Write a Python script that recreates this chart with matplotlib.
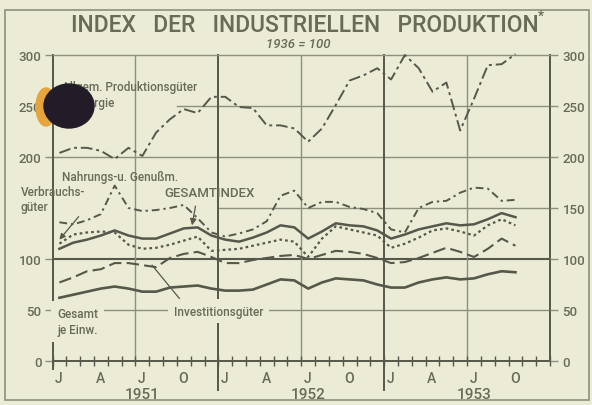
import numpy as np
import matplotlib.pyplot as plt
from matplotlib.patches import Ellipse, Rectangle

# ----------------------------
# Data (monthly, Jan 1951 - Oct 1953, 1936 = 100)
# ----------------------------
allgem = [204, 209, 209, 206, 198, 209, 201, 224, 237, 247, 243, 259,
          259, 249, 248, 231, 231, 228, 215, 228, 251, 275, 280, 287,
          276, 300, 287, 264, 273, 226, 257, 290, 291, 301]
nahrung = [136, 134, 138, 144, 172, 150, 147, 148, 150, 153, 140, 126,
           122, 125, 129, 137, 162, 167, 150, 156, 156, 151, 149, 145,
           129, 126, 150, 156, 157, 165, 170, 169, 157, 158]
gesamt = [110, 116, 119, 123, 128, 123, 120, 120, 125, 130, 131, 123,
          119, 117, 121, 126, 133, 131, 120, 127, 135, 133, 132, 128,
          120, 124, 129, 132, 135, 133, 134, 139, 145, 141]
verbrauch = [115, 124, 126, 127, 126, 114, 110, 111, 114, 118, 122, 108,
             109, 110, 113, 116, 119, 117, 102, 120, 132, 129, 126, 123,
             111, 115, 121, 128, 130, 127, 123, 133, 139, 133]
invest = [77, 82, 88, 90, 96, 96, 94, 92, 101, 105, 107, 102,
          96, 96, 99, 101, 103, 104, 100, 104, 108, 107, 105, 101,
          96, 97, 101, 106, 111, 107, 102, 110, 120, 113]
je_einw = [62, 65, 68, 71, 73, 71, 68, 68, 72, 73, 74, 71,
           69, 69, 70, 75, 80, 79, 71, 77, 81, 80, 79, 75,
           72, 72, 77, 80, 82, 80, 81, 85, 88, 87]

month_labels = ["J", "A", "J", "O"] * 3
years = ["1951", "1952", "1953"]
left_ticks = [0, 50, 100, 200, 250, 300]
right_ticks = [0, 50, 100, 150, 200, 250, 300]

x = np.arange(len(gesamt)) + 0.5

# ----------------------------
# Style
# ----------------------------
BG = "#ebebd6"
INK = "#55584a"
TXT = "#686b58"
GRID = "#8d907c"
plt.rcParams["font.family"] = ["Roboto", "DejaVu Sans"]
plt.rcParams["font.weight"] = "medium"

fig = plt.figure(figsize=(5.92, 4.06), dpi=100, facecolor=BG)
ax = fig.add_axes([52.5 / 592, 1 - 362 / 406, 497.5 / 592, 306 / 406])
ax.set_facecolor(BG)
ax.set_xlim(0, 36)
ax.set_ylim(0, 300)

# grid
for v in [50, 200]:
    ax.axhline(v, color=GRID, lw=1.0, zorder=1)
ax.axhline(100, color=INK, lw=1.5, zorder=1)
ax.axhline(250, xmin=9 / 36, color=GRID, lw=1.0, zorder=1)
ax.axhline(150, xmin=12 / 36, color=GRID, lw=1.0, zorder=1)
for m in [6, 18, 30]:
    ax.axvline(m, color=GRID, lw=1.0, zorder=1)
for m in [12, 24]:
    ax.plot([m, m], [-28, 300], color=INK, lw=1.4, clip_on=False, zorder=1)
ax.plot([0, 0], [-8, 0], color=INK, lw=1.4, clip_on=False)

for s in ["left", "right", "bottom"]:
    ax.spines[s].set_color(INK)
    ax.spines[s].set_linewidth(1.4)
ax.spines["top"].set_color(GRID)
ax.spines["top"].set_linewidth(1.0)

# ----------------------------
# Series
# ----------------------------
kw = dict(color=INK, clip_on=False, zorder=3)
ax.plot(x, allgem, lw=1.4, dashes=(6, 2, 1.5, 2), **kw)
ax.plot(x, nahrung, lw=1.4, dashes=(4, 2, 1.2, 2), **kw)
ax.plot(x, gesamt, lw=1.8, **kw)
ax.plot(x, verbrauch, lw=1.6, dashes=(1.2, 1.4), **kw)
ax.plot(x, invest, lw=1.5, dashes=(6, 2.5), **kw)
ax.plot(x, je_einw, lw=1.9, **kw)

# ----------------------------
# Axes ticks
# ----------------------------
ax.set_yticks(left_ticks)
ax.tick_params(axis="y", length=6, width=1, color=GRID, labelsize=9.5,
               labelcolor=TXT, pad=2)
ax2 = ax.twinx()
ax2.set_ylim(0, 300)
ax2.set_yticks(right_ticks)
ax2.tick_params(axis="y", length=6, width=1, color=GRID, labelsize=9.5,
                labelcolor=TXT, pad=3)
for s in ax2.spines.values():
    s.set_visible(False)

ax.set_xticks(np.arange(0, 36, 3) + 0.45)
ax.set_xticklabels(month_labels)
ax.set_xticks(np.arange(0, 37), minor=True)
ax.tick_params(axis="x", which="major", length=0, pad=7, labelsize=10,
               labelcolor=TXT)
ax.tick_params(axis="x", which="minor", direction="inout", length=7,
               width=1, color=INK)
for i, yr in enumerate(years):
    ax.text(12 * i + 6.5, -32, yr, ha="center", va="center", fontsize=11,
            color=TXT)

# ----------------------------
# Labels
# ----------------------------
tk = dict(color=TXT, fontsize=8.5, zorder=5)
ax.text(0.69, 261, "Allgem. Produktionsgüter\nu. Energie", ha="left",
        va="center", linespacing=1.3, **tk)
ax.text(0.69, 181, "Nahrungs-u. Genußm.", ha="left", va="center", **tk)
ax.annotate("Verbrauchs-\ngüter", xy=(0.5, 119), xytext=(-2.3, 159),
            ha="left", va="center", linespacing=1.2,
            arrowprops=dict(arrowstyle="-|>,head_length=0.4,head_width=0.2",
                            color=INK, lw=0.9, relpos=(0.95, 0.0),
                            shrinkA=1, shrinkB=0), **tk)
ax.annotate("GESAMTINDEX", xy=(10.1, 133), xytext=(11.35, 165),
            ha="center", va="center", color=TXT, fontsize=9.5, zorder=5,
            arrowprops=dict(arrowstyle="-|>,head_length=0.4,head_width=0.2",
                            color=INK, lw=0.9, relpos=(0.36, 0.0),
                            shrinkA=3, shrinkB=0))
box = dict(boxstyle="square,pad=0.5", fc=BG, ec="none")
ax.text(0.33, 39, "Gesamt\nje Einw.", ha="left", va="center",
        linespacing=1.3, bbox=box, **tk)
ax.annotate("Investitionsgüter", xy=(7.2, 94), xytext=(12.0, 49),
            ha="center", va="center", bbox=box,
            arrowprops=dict(arrowstyle="-", color=INK, lw=0.9,
                            relpos=(0.12, 1.0), shrinkA=0, shrinkB=0), **tk)

# title
fig.text(305 / 592, 1 - 26 / 406, "INDEX   DER   INDUSTRIELLEN   PRODUKTION",
         ha="center", va="center", fontsize=16.5, color=TXT)
fig.text(541 / 592, 1 - 17 / 406, "*", ha="center", va="center",
         fontsize=10, color=TXT)
fig.text(298 / 592, 1 - 45 / 406, "1936 = 100", ha="center", va="center",
         fontsize=9.5, style="italic", color=TXT)

# scan details: frame and ink blot
fig.add_artist(Rectangle((5 / 592, 5 / 406), 584 / 592, 390 / 406,
                         transform=fig.transFigure, fill=False,
                         ec=GRID, lw=1.2))
fig.add_artist(Ellipse((46 / 592, 1 - 108 / 406), 20 / 592, 38 / 406,
                       transform=fig.transFigure, color="#e6a43c", zorder=9))
fig.add_artist(Ellipse((69 / 592, 1 - 107 / 406), 50 / 592, 44 / 406,
                       transform=fig.transFigure, color="#211c27", zorder=10))

fig.savefig("out.png", dpi=100, facecolor=BG)
